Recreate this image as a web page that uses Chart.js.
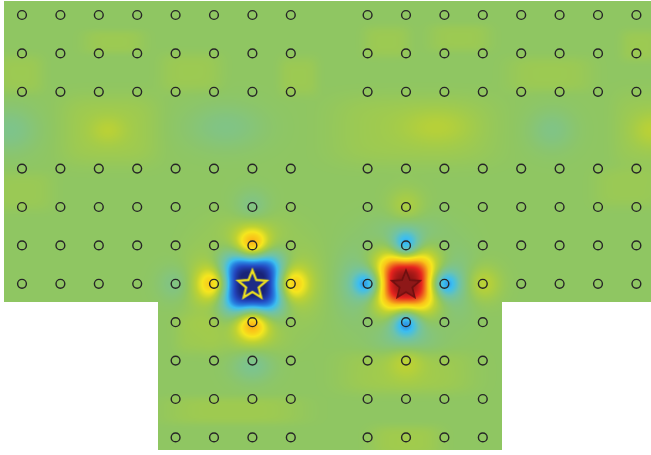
<!DOCTYPE html>
<html lang="en">
<head>
  <meta charset="UTF-8">
  <title>Sensor Field Map</title>
  <script src="https://cdn.jsdelivr.net/npm/chart.js"></script>
  <style>
    body {
      margin: 0;
      background: #ffffff;
      overflow: hidden;
    }
    #fieldChart {
      display: block;
    }
  </style>
</head>
<body>
  <canvas id="fieldChart" width="651" height="455"></canvas>

  <script>
    // sensor grid, in grid units (one unit = sensor pitch)
    const topCols = [0, 1, 2, 3, 4, 5, 6, 7, 9, 10, 11, 12, 13, 14, 15, 16];
    const topRows = [0, 1, 2, 4, 5, 6, 7];
    const stemCols = [4, 5, 6, 7, 9, 10, 11, 12];
    const stemRows = [8, 9, 10, 11];

    // the two sources sit on sensor sites
    const negSource = [6, 7];
    const posSource = [10, 7];

    // measured area: a wide band on top and a narrower stem below
    const topBandX = [-0.47, 16.6];
    const topBandY = [-0.37, 7.47];
    const stemBandX = [3.54, 12.5];
    const stemBandY = [7.47, 11.33];

    // field features: [x, y, amplitude, rx, ry, shape]
    const sourceSpots = [
      [10.0, 6.95, 1.0, 0.78, 0.78, 2.6],
      [6.0, 7.0, -1.1, 0.78, 0.78, 3],
      // ring around the negative source
      [5, 7, 0.46, 0.42, 0.42, 2],
      [7, 7, 0.46, 0.42, 0.42, 2],
      [6, 6, 0.55, 0.42, 0.42, 2],
      [6, 8, 0.55, 0.42, 0.42, 2],
      // ring around the positive source
      [9, 7, -0.55, 0.36, 0.36, 2],
      [11, 7, -0.55, 0.36, 0.36, 2],
      [10, 6, -0.55, 0.36, 0.36, 2],
      [10, 8, -0.55, 0.36, 0.36, 2],
      // outer petals
      [6, 5.65, 0.1, 0.9, 0.5, 2],
      [6, 8.4, 0.12, 0.8, 0.5, 2],
      [4.65, 7, 0.1, 0.5, 0.9, 2],
      [7.35, 7, 0.1, 0.5, 0.9, 2],
      [10, 5.65, -0.12, 0.9, 0.5, 2],
      [10, 8.4, -0.15, 0.8, 0.5, 2],
      [8.65, 7, -0.13, 0.5, 0.9, 2],
      [11.35, 7, -0.12, 0.5, 0.9, 2],
      // second ring
      [6, 5, -0.12, 0.45, 0.45, 2],
      [6, 9.1, -0.16, 0.55, 0.45, 2],
      [4, 7, -0.12, 0.45, 0.45, 2],
      [10, 5, 0.14, 0.45, 0.45, 2],
      [10, 9, 0.14, 0.45, 0.45, 2],
      [12, 7, 0.2, 0.45, 0.45, 2]
    ];

    const backgroundPatches = [
      [-0.31, 3.0, -0.13, 0.7, 0.6, 2],
      [2.29, 3.0, 0.08, 1.25, 0.9, 4],
      [2.24, 3.0, 0.1, 0.45, 0.35, 2],
      [5.31, 2.92, -0.11, 1.0, 0.6, 2],
      [10.2, 3.0, 0.07, 2.1, 0.9, 4],
      [10.8, 2.92, 0.1, 0.9, 0.45, 2],
      [13.8, 3.0, -0.11, 0.6, 0.55, 2],
      [16.4, 3.0, 0.13, 0.5, 0.45, 2],
      [16.2, 3.0, 0.05, 0.8, 1.0, 4],
      [2.4, 0.7, 0.06, 0.8, 0.3, 4],
      [-0.05, 1.55, 0.06, 0.6, 0.5, 4],
      [4.4, 1.5, 0.06, 0.8, 0.5, 4],
      [11.4, 0.6, 0.06, 0.8, 0.35, 4],
      [13.75, 1.55, 0.06, 1.1, 0.45, 4],
      [16.1, 0.8, 0.06, 0.5, 0.4, 4],
      [7.2, 1.6, 0.06, 0.5, 0.5, 4],
      [9.5, 0.7, 0.06, 0.6, 0.4, 4],
      [0.0, 4.6, 0.05, 0.8, 0.5, 4],
      [15.8, 4.5, 0.05, 0.9, 0.5, 4],
      [5.5, 10.3, 0.07, 1.8, 0.35, 4],
      [4.6, 8.3, 0.06, 0.6, 0.5, 4],
      [10, 9.3, 0.08, 1.7, 0.55, 4],
      [10, 11.1, 0.08, 0.9, 0.4, 4]
    ];

    // colour ramp: [value, r, g, b]
    const rampStops = [
      [-1.0, 25, 35, 120],
      [-0.8, 35, 70, 190],
      [-0.6, 40, 130, 225],
      [-0.45, 60, 190, 240],
      [-0.25, 110, 195, 170],
      [-0.1, 130, 196, 130],
      [0.0, 143, 198, 98],
      [0.1, 165, 204, 72],
      [0.2, 190, 210, 50],
      [0.35, 245, 230, 30],
      [0.5, 250, 195, 25],
      [0.65, 240, 120, 30],
      [0.8, 230, 35, 30],
      [1.0, 140, 20, 20]
    ];

    function rampColor(v) {
      if (v <= rampStops[0][0]) return rampStops[0].slice(1);
      for (let i = 1; i < rampStops.length; i++) {
        const a = rampStops[i - 1], b = rampStops[i];
        if (v <= b[0]) {
          const t = (v - a[0]) / (b[0] - a[0]);
          return [a[1] + t * (b[1] - a[1]), a[2] + t * (b[2] - a[2]), a[3] + t * (b[3] - a[3])];
        }
      }
      return rampStops[rampStops.length - 1].slice(1);
    }

    const allFeatures = sourceSpots.concat(backgroundPatches);

    function fieldAt(gx, gy) {
      let v = 0;
      for (const [fx, fy, amp, rx, ry, p] of allFeatures) {
        const dx = Math.abs(gx - fx) / rx;
        const dy = Math.abs(gy - fy) / ry;
        if (dx > 4 || dy > 4) continue;
        v += amp * Math.exp(-(Math.pow(dx, p) + Math.pow(dy, p)));
      }
      return v;
    }

    function insideArea(gx, gy) {
      const inTop = gx >= topBandX[0] && gx <= topBandX[1] && gy >= topBandY[0] && gy <= topBandY[1];
      const inStem = gx >= stemBandX[0] && gx <= stemBandX[1] && gy >= stemBandY[0] && gy <= stemBandY[1];
      return inTop || inStem;
    }

    // paints the interpolated field under the markers
    const fieldPlugin = {
      id: 'fieldMap',
      beforeDatasetsDraw(chart) {
        const { ctx, chartArea, scales } = chart;
        const w = Math.round(chartArea.right - chartArea.left);
        const h = Math.round(chartArea.bottom - chartArea.top);
        const img = ctx.createImageData(w, h);
        const gxs = [], gys = [];
        for (let i = 0; i < w; i++) gxs.push(scales.x.getValueForPixel(chartArea.left + i + 0.5));
        for (let j = 0; j < h; j++) gys.push(scales.y.getValueForPixel(chartArea.top + j + 0.5));
        for (let j = 0; j < h; j++) {
          for (let i = 0; i < w; i++) {
            const k = (j * w + i) * 4;
            if (!insideArea(gxs[i], gys[j])) {
              img.data[k] = 255; img.data[k + 1] = 255; img.data[k + 2] = 255; img.data[k + 3] = 255;
              continue;
            }
            const c = rampColor(fieldAt(gxs[i], gys[j]));
            img.data[k] = c[0]; img.data[k + 1] = c[1]; img.data[k + 2] = c[2]; img.data[k + 3] = 255;
          }
        }
        ctx.putImageData(img, chartArea.left, chartArea.top);
      }
    };

    function starCanvas(fill, stroke, lineWidth) {
      const size = 40, outer = 15, inner = 6.6;
      const c = document.createElement('canvas');
      c.width = size; c.height = size;
      const g = c.getContext('2d');
      g.beginPath();
      for (let i = 0; i < 10; i++) {
        const r = i % 2 === 0 ? outer : inner;
        const a = -Math.PI / 2 + i * Math.PI / 5;
        const x = size / 2 + r * Math.cos(a);
        const y = size / 2 + 1.5 + r * Math.sin(a);
        if (i === 0) g.moveTo(x, y); else g.lineTo(x, y);
      }
      g.closePath();
      g.fillStyle = fill;
      g.fill();
      g.lineJoin = 'miter';
      g.lineWidth = lineWidth;
      g.strokeStyle = stroke;
      g.stroke();
      return c;
    }

    const sensorPoints = [];
    topRows.forEach(r => topCols.forEach(c => {
      if ((c === negSource[0] && r === negSource[1]) || (c === posSource[0] && r === posSource[1])) return;
      sensorPoints.push({ x: c, y: r });
    }));
    stemRows.forEach(r => stemCols.forEach(c => sensorPoints.push({ x: c, y: r })));

    // scale range puts sensor (0,0) at pixel (22,15) with a 38.4px pitch
    const pitch = 38.4;
    const xMin = -22 / pitch, xMax = (651 - 22) / pitch;
    const yMin = -15 / pitch, yMax = (455 - 15) / pitch;

    new Chart(document.getElementById('fieldChart'), {
      type: 'scatter',
      data: {
        datasets: [
          {
            label: 'Sensors',
            data: sensorPoints,
            pointStyle: 'circle',
            pointRadius: 4.4,
            backgroundColor: 'rgba(0,0,0,0)',
            borderColor: '#262626',
            borderWidth: 1.4
          },
          {
            label: 'Sink',
            data: [{ x: negSource[0], y: negSource[1] }],
            pointStyle: starCanvas('#1d2c86', '#f2e41e', 2.2)
          },
          {
            label: 'Source',
            data: [{ x: posSource[0], y: posSource[1] }],
            pointStyle: starCanvas('#8e1818', '#6e1010', 1.6)
          }
        ]
      },
      options: {
        responsive: false,
        animation: false,
        devicePixelRatio: 1,
        layout: { padding: 0, autoPadding: false },
        plugins: {
          legend: { display: false },
          tooltip: { enabled: false }
        },
        scales: {
          x: { type: 'linear', min: xMin, max: xMax, display: false },
          y: { type: 'linear', min: yMin, max: yMax, reverse: true, display: false }
        }
      },
      plugins: [fieldPlugin]
    });
  </script>
</body>
</html>
